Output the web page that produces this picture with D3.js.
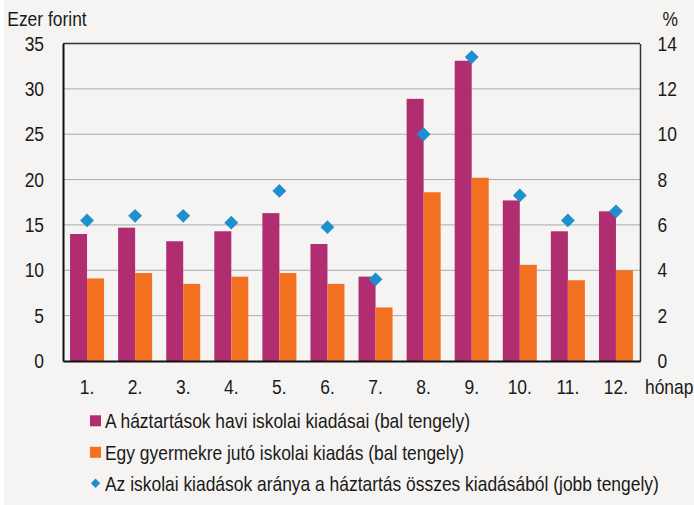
<!DOCTYPE html>
<html>
<head>
<meta charset="utf-8">
<script src="https://cdn.jsdelivr.net/npm/d3@7"></script>
<style>
  html, body { margin: 0; padding: 0; background: #ffffff; }
  svg { display: block; }
</style>
</head>
<body>
<svg id="chart" width="694" height="505"></svg>
<script>
// ---- data ----
const months = ["1.", "2.", "3.", "4.", "5.", "6.", "7.", "8.", "9.", "10.", "11.", "12."];
const householdSpending = [14.0, 14.7, 13.2, 14.3, 16.3, 12.9, 9.3, 28.9, 33.1, 17.7, 14.3, 16.5];
const perChildSpending = [9.1, 9.7, 8.5, 9.3, 9.7, 8.5, 5.9, 18.6, 20.2, 10.6, 8.9, 10.0];
const shareOfTotal = [6.2, 6.4, 6.4, 6.1, 7.5, 5.9, 3.6, 10.0, 13.4, 7.3, 6.2, 6.6];
const leftTicks = [0, 5, 10, 15, 20, 25, 30, 35];
const rightTicks = [0, 2, 4, 6, 8, 10, 12, 14];
const seriesNames = [
  "A háztartások havi iskolai kiadásai (bal tengely)",
  "Egy gyermekre jutó iskolai kiadás (bal tengely)",
  "Az iskolai kiadások aránya a háztartás összes kiadásából (jobb tengely)"
];
const leftUnit = "Ezer forint";
const rightUnit = "%";
const xUnit = "hónap";

const FONT = "'Liberation Sans', Arial, sans-serif";
const FS = 20.5;
const SQUEEZE = 0.85;

const colors = { hh: "#b02d72", child: "#f37021", share: "#1e90d0" };

const svg = d3.select("#chart");
svg.append("rect").attr("x", 0).attr("y", 0).attr("width", 694).attr("height", 505).attr("fill", "#ffffff");
svg.append("rect").attr("x", 4).attr("y", 0).attr("width", 690).attr("height", 505).attr("fill", "#f5f4f2");

const plot = { left: 63, right: 640, top: 43.5, bottom: 361 };

const x0 = d3.scaleBand().domain(months).range([plot.left, plot.right]).padding(0);
const x1 = d3.scaleBand().domain(["hh", "child"]).range([0, x0.bandwidth()]).paddingInner(0).paddingOuter(0.414);
const yL = d3.scaleLinear().domain([0, 35]).range([plot.bottom, plot.top]);
const yR = d3.scaleLinear().domain([0, 14]).range([plot.bottom, plot.top]);

// gridlines
svg.append("g").selectAll("line").data(leftTicks.filter(t => t > 0 && t < 35)).join("line")
  .attr("x1", plot.left).attr("x2", plot.right)
  .attr("y1", d => yL(d)).attr("y2", d => yL(d))
  .attr("stroke", "#aaaaaa").attr("stroke-width", 1);

// bars
const data = months.map((m, i) => ({ m, hh: householdSpending[i], child: perChildSpending[i], share: shareOfTotal[i] }));
const groups = svg.append("g").selectAll("g").data(data).join("g")
  .attr("transform", d => `translate(${x0(d.m)},0)`);
groups.selectAll("rect").data(d => ["hh", "child"].map(k => ({ k, v: d[k] }))).join("rect")
  .attr("x", d => x1(d.k)).attr("width", x1.bandwidth())
  .attr("y", d => yL(d.v)).attr("height", d => yL(0) - yL(d.v))
  .attr("fill", d => colors[d.k]);

// frame
svg.append("line").attr("x1", plot.left).attr("x2", plot.right).attr("y1", plot.top).attr("y2", plot.top)
  .attr("stroke", "#333").attr("stroke-width", 1.5);

// axes
const axL = svg.append("g").attr("transform", `translate(${plot.left},0)`)
  .call(d3.axisLeft(yL).tickValues(leftTicks).tickSize(0).tickPadding(19));
const axR = svg.append("g").attr("transform", `translate(${plot.right},0)`)
  .call(d3.axisRight(yR).tickValues(rightTicks).tickSize(0).tickPadding(17.5));
const axB = svg.append("g").attr("transform", `translate(0,${plot.bottom})`)
  .call(d3.axisBottom(x0).tickSize(0));
[axL, axR, axB].forEach(a => {
  a.select(".domain").attr("stroke", "#111").attr("stroke-width", 2);
  a.selectAll("text").attr("font-family", FONT).attr("font-size", FS).attr("fill", "#1a1a1a");
});
axR.select(".domain").attr("stroke", "#333").attr("stroke-width", 1.5);
axB.selectAll("text").attr("y", 32.7).attr("dy", null);

// diamonds
const diamond = d3.symbol().type(d3.symbolSquare).size(96);
svg.append("g").selectAll("path").data(data).join("path")
  .attr("d", diamond)
  .attr("transform", d => `translate(${x0(d.m) + x0.bandwidth() / 2},${yR(d.share)}) rotate(45)`)
  .attr("fill", colors.share);

// unit labels
svg.append("text").attr("x", 7.3).attr("y", 25.7).text(leftUnit)
  .attr("font-family", FONT).attr("font-size", FS).attr("fill", "#1a1a1a");
svg.append("text").attr("x", 662.5).attr("y", 25.7).text(rightUnit)
  .attr("font-family", FONT).attr("font-size", FS).attr("fill", "#1a1a1a");
svg.append("text").attr("x", 645).attr("y", 393.7).text(xUnit)
  .attr("font-family", FONT).attr("font-size", FS).attr("fill", "#1a1a1a");

// legend
const legBase = [428.3, 459.8, 491.3];
const leg = svg.append("g");
leg.append("rect").attr("x", 90).attr("y", legBase[0] - 13).attr("width", 11).attr("height", 11).attr("fill", colors.hh);
leg.append("rect").attr("x", 90).attr("y", legBase[1] - 13).attr("width", 11).attr("height", 11).attr("fill", colors.child);
leg.append("path").attr("d", d3.symbol().type(d3.symbolSquare).size(44))
  .attr("transform", `translate(95.5,${legBase[2] - 8})  rotate(45)`).attr("fill", colors.share);
leg.selectAll("text").data(seriesNames).join("text")
  .attr("x", 105).attr("y", (d, i) => legBase[i])
  .text(d => d)
  .attr("font-family", FONT).attr("font-size", FS).attr("fill", "#1a1a1a");

// emulate a narrow typeface: compress every label horizontally around its anchor
svg.selectAll("text").each(function () {
  const ax = +this.getAttribute("x") || 0;
  d3.select(this).attr("transform", `translate(${ax},0) scale(${SQUEEZE},1) translate(${-ax},0)`);
});
</script>
</body>
</html>
